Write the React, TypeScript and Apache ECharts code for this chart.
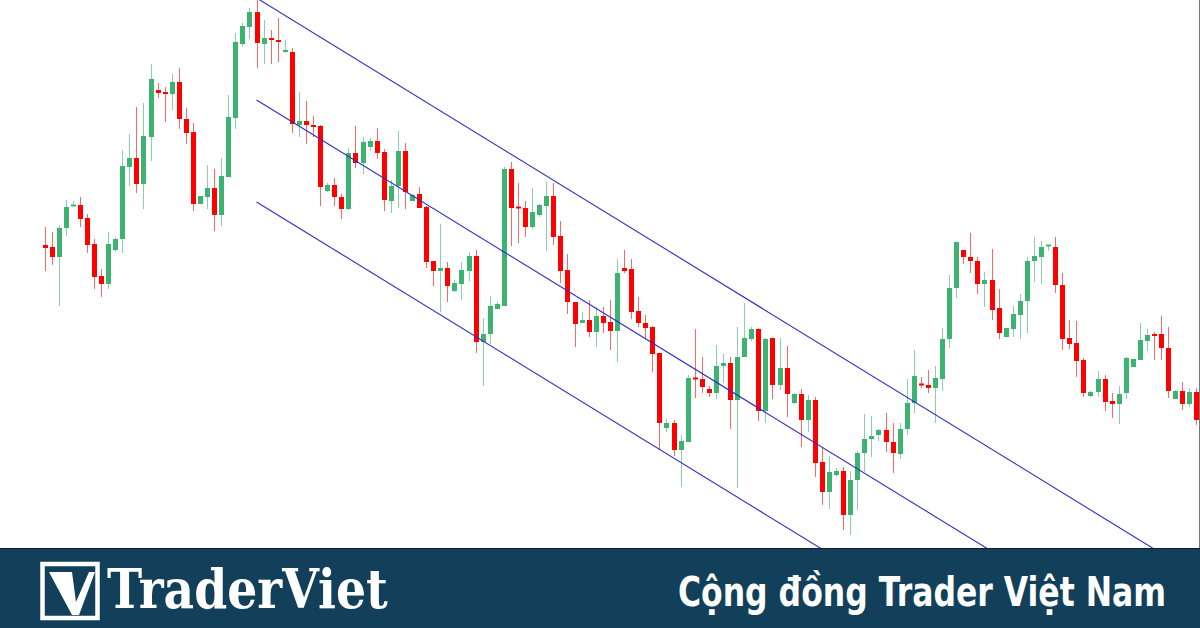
import React, { useEffect, useRef } from "react";
import * as echarts from "echarts";

// Each candle: [open, close, low, high] (price units)
const candles: number[][] = [
  [303, 300, 277, 321], [301, 291, 283, 316], [291, 320, 242, 323], [320, 341, 312, 348],
  [342, 343, 342, 347], [343, 329, 321, 351], [330, 303, 295, 334], [304, 271, 259, 309],
  [272, 264, 251, 279], [264, 304, 259, 316], [298, 309, 296, 311], [309, 382, 295, 398],
  [381, 390, 362, 414], [390, 364, 355, 441], [364, 412, 339, 445], [411, 469, 387, 484],
  [458, 455, 450, 465], [456, 454, 426, 461], [454, 466, 438, 474], [466, 429, 419, 480],
  [429, 415, 404, 440], [416, 344, 337, 425], [344, 352, 344, 352], [351, 360, 339, 383],
  [360, 333, 317, 379], [333, 372, 322, 390], [371, 431, 371, 453], [430, 506, 419, 515],
  [504, 522, 501, 525], [521, 536, 509, 540], [536, 505, 480, 548], [504, 510, 484, 528],
  [510, 508, 484, 518], [508, 506, 486, 530], [496, 498, 495, 508], [496, 424, 415, 500],
  [423, 427, 411, 456], [427, 423, 404, 447], [423, 421, 411, 432], [422, 361, 342, 423],
  [357, 363, 356, 365], [363, 351, 342, 370], [351, 339, 329, 354], [339, 395, 338, 400],
  [395, 385, 380, 422], [385, 406, 374, 411], [401, 407, 397, 410], [407, 395, 389, 420],
  [396, 348, 337, 399], [347, 362, 335, 368], [362, 397, 340, 417], [397, 356, 339, 405],
  [347, 353, 347, 354], [354, 340, 340, 361], [341, 286, 280, 342], [287, 277, 262, 287],
  [277, 280, 236, 324], [280, 262, 246, 286], [257, 265, 256, 268], [264, 278, 248, 286],
  [277, 292, 267, 296], [292, 206, 195, 298], [206, 214, 162, 230], [214, 242, 204, 252],
  [239, 244, 239, 246], [242, 379, 242, 381], [379, 340, 302, 386], [341, 340, 305, 365],
  [340, 321, 311, 347], [321, 336, 319, 360], [333, 343, 331, 344], [342, 352, 297, 366],
  [352, 311, 303, 365], [312, 277, 265, 327], [278, 246, 234, 294], [246, 224, 201, 246],
  [225, 228, 225, 236], [228, 216, 211, 248], [216, 232, 201, 241], [232, 225, 215, 241],
  [226, 217, 198, 248], [217, 275, 186, 289], [280, 277, 275, 298], [279, 236, 229, 289],
  [237, 225, 221, 251], [225, 220, 209, 233], [221, 194, 176, 222], [195, 125, 98, 195],
  [120, 125, 116, 129], [125, 98, 92, 128], [98, 107, 61, 113], [106, 170, 106, 173],
  [170, 169, 150, 219], [169, 161, 155, 191], [159, 155, 151, 162], [155, 182, 149, 203],
  [182, 185, 165, 194], [185, 148, 119, 191], [148, 191, 60, 221], [191, 210, 191, 245],
  [209, 219, 207, 221], [219, 137, 127, 220], [137, 209, 125, 210], [210, 163, 149, 210],
  [163, 180, 158, 210], [180, 154, 131, 202], [145, 154, 144, 155], [154, 128, 101, 159],
  [128, 148, 116, 153], [148, 85, 71, 151], [86, 56, 43, 101], [56, 76, 39, 92],
  [73, 77, 71, 80], [77, 33, 18, 81], [33, 68, 13, 77], [68, 95, 38, 97],
  [95, 109, 76, 134], [109, 112, 91, 132], [113, 118, 107, 119], [118, 106, 96, 135],
  [106, 95, 75, 125], [94, 119, 89, 125], [119, 145, 113, 169], [145, 172, 135, 198],
  [164, 163, 160, 171], [163, 160, 155, 178], [160, 170, 125, 182], [169, 209, 157, 220],
  [209, 260, 200, 273], [260, 306, 250, 306], [298, 291, 284, 298], [291, 287, 275, 315],
  [287, 264, 254, 291], [264, 268, 241, 276], [268, 238, 228, 299], [240, 215, 209, 259],
  [211, 220, 211, 220], [219, 234, 211, 242], [233, 247, 209, 254], [247, 287, 215, 291],
  [287, 292, 266, 311], [291, 301, 264, 307], [302, 303, 297, 303], [301, 263, 255, 311],
  [263, 209, 198, 275], [210, 204, 199, 228], [205, 187, 171, 227], [188, 155, 151, 190],
  [152, 156, 151, 157], [156, 169, 151, 177], [169, 146, 137, 173], [147, 144, 130, 155],
  [144, 154, 124, 162], [155, 190, 149, 191], [181, 189, 181, 189], [188, 208, 188, 225],
  [207, 213, 197, 219], [214, 212, 188, 216], [214, 200, 188, 232], [200, 157, 150, 221],
  [149, 157, 149, 158], [157, 144, 138, 166], [144, 156, 141, 160], [156, 128, 123, 160],
];

const categories = candles.map((_, i) => String(i + 1));

// Regression channel: start / end bar and values of the three parallel lines
const channelBars = [30, 163];
const upperChannel = [550, -27];
const middleChannel = [448, -129];
const lowerChannel = [346, -231];

const priceRange = [0, 548];

const brandName = "TraderViet";
const slogan = "Cộng đồng Trader Việt Nam";

const UP = "#3cb371";
const DOWN = "#ff0000";
const UP_WICK = "rgba(60,179,113,0.6)";
const DOWN_WICK = "rgba(255,0,0,0.6)";
const CHANNEL = "#2e2ec4";
const FOOTER = "#123f5a";

function measure(text: string, font: string): number {
  const ctx = document.createElement("canvas").getContext("2d");
  if (!ctx) return 1;
  ctx.font = font;
  return ctx.measureText(text).width || 1;
}

export default function App() {
  const ref = useRef<HTMLDivElement>(null);

  useEffect(() => {
    if (!ref.current) return;
    const chart = echarts.init(ref.current, undefined, { renderer: "svg" });

    const brandFont = 'bold 55px "DejaVu Serif"';
    const sloganFont = 'bold 40px "DejaVu Sans"';
    const brandScale = 281 / measure(brandName, brandFont);
    const sloganScale = 488 / measure(slogan, sloganFont);

    const channelSeries = [upperChannel, middleChannel, lowerChannel].map((vals) => ({
      type: "line",
      data: [
        [channelBars[0], vals[0]],
        [channelBars[1], vals[1]],
      ],
      symbol: "none",
      clip: true,
      silent: true,
      lineStyle: { color: CHANNEL, width: 1.1 },
      z: 3,
    }));

    chart.setOption({
      animation: false,
      backgroundColor: "#ffffff",
      grid: { left: 41, top: 0, width: 1159, height: 548 },
      xAxis: {
        type: "category",
        data: categories,
        boundaryGap: true,
        show: false,
      },
      yAxis: {
        type: "value",
        min: priceRange[0],
        max: priceRange[1],
        show: false,
        splitLine: { show: false },
      },
      series: [
        {
          type: "custom",
          clip: true,
          z: 2,
          dimensions: ["idx", "open", "close", "low", "high"],
          encode: { x: 0, y: [1, 2, 3, 4] },
          data: candles.map((d, i) => [i, d[0], d[1], d[2], d[3]]),
          renderItem: (params: any, api: any) => {
            const i = api.value(0);
            const o = api.value(1);
            const c = api.value(2);
            const l = api.value(3);
            const h = api.value(4);
            const pO = api.coord([i, o]);
            const pC = api.coord([i, c]);
            const pL = api.coord([i, l]);
            const pH = api.coord([i, h]);
            const x = Math.round(pO[0]);
            const up = c >= o;
            const top = Math.min(pO[1], pC[1]);
            let hgt = Math.abs(pO[1] - pC[1]);
            let y0 = top;
            if (hgt < 2) {
              y0 = top - (2 - hgt) / 2;
              hgt = 2;
            }
            return {
              type: "group",
              children: [
                {
                  type: "line",
                  shape: { x1: x + 0.5, y1: pH[1], x2: x + 0.5, y2: pL[1] },
                  style: { stroke: up ? UP_WICK : DOWN_WICK, lineWidth: 1 },
                },
                {
                  type: "rect",
                  shape: { x: x - 2, y: y0, width: 5, height: hgt },
                  style: { fill: up ? UP : DOWN },
                },
              ],
            };
          },
        },
        ...channelSeries,
      ],
      graphic: [
        {
          type: "line",
          z: 90,
          shape: { x1: 1199.5, y1: 0, x2: 1199.5, y2: 548 },
          style: { stroke: "#777777", lineWidth: 1 },
        },
        {
          type: "rect",
          z: 100,
          shape: { x: 0, y: 548, width: 1200, height: 80 },
          style: { fill: FOOTER },
        },
        {
          type: "line",
          z: 101,
          shape: { x1: 0, y1: 548.5, x2: 1200, y2: 548.5 },
          style: { stroke: "#0c2233", lineWidth: 1 },
        },
        {
          type: "rect",
          z: 101,
          shape: { x: 42.5, y: 564, width: 55, height: 54 },
          style: { fill: "transparent", stroke: "#ffffff", lineWidth: 4.5 },
        },
        {
          type: "polygon",
          z: 101,
          shape: {
            points: [
              [49, 572],
              [72, 572],
              [76, 602],
              [89, 572],
              [95, 572],
              [79, 615],
              [72, 615],
            ],
          },
          style: { fill: "#ffffff" },
        },
        {
          type: "text",
          z: 101,
          x: 107,
          y: 589,
          scaleX: brandScale,
          style: {
            text: brandName,
            x: 0,
            y: 0,
            font: brandFont,
            fill: "#ffffff",
            align: "left",
            verticalAlign: "middle",
          },
        },
        {
          type: "text",
          z: 101,
          x: 678,
          y: 592,
          scaleX: sloganScale,
          style: {
            text: slogan,
            x: 0,
            y: 0,
            font: sloganFont,
            fill: "#ffffff",
            align: "left",
            verticalAlign: "middle",
          },
        },
      ],
    });

    return () => chart.dispose();
  }, []);

  return (
    <div
      ref={ref}
      style={{ position: "fixed", left: 0, top: 0, width: 1200, height: 628 }}
    />
  );
}
